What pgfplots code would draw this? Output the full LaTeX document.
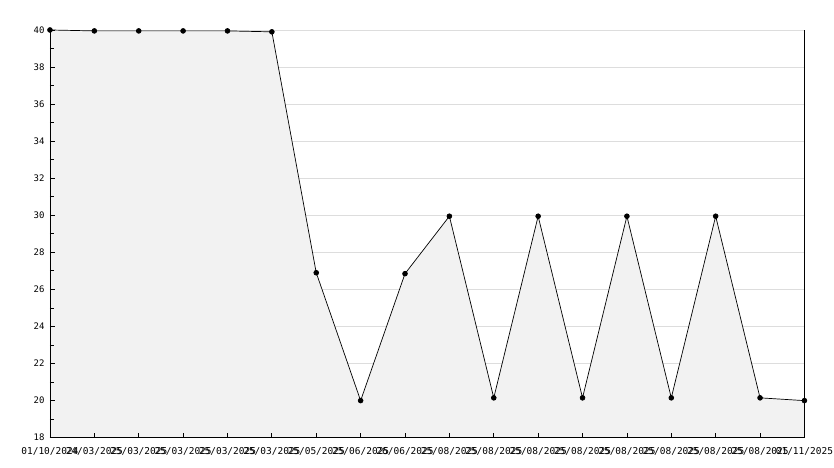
\documentclass[border=0pt]{standalone}
\usepackage{pgfplots}
\pgfplotsset{compat=1.18}
\usepackage{fontspec}
\setmainfont{DejaVu Sans Mono}
\definecolor{fillc}{RGB}{242,242,242}
\definecolor{gridc}{RGB}{221,221,221}
\begin{document}
\begin{tikzpicture}
\begin{axis}[
  scale only axis,
  width=755pt, height=408pt,
  xmin=0, xmax=17, ymin=18, ymax=40,
  axis on top,
  axis lines=left,
  axis line style={-},
  xtick={0,...,17},
  xticklabels={01/10/2024,24/03/2025,25/03/2025,25/03/2025,25/03/2025,25/03/2025,25/05/2025,25/06/2025,26/06/2025,25/08/2025,25/08/2025,25/08/2025,25/08/2025,25/08/2025,25/08/2025,25/08/2025,25/08/2025,01/11/2025},
  ytick={18,20,...,40},
  minor y tick num=1,
  tick align=inside,
  major tick length=5pt, minor tick length=4pt,
  tick style={black, line width=0.8pt},
  yticklabel style={font=\fontsize{9}{10}\selectfont, /pgf/number format/assume math mode=true, xshift=-2pt},
  xticklabel style={font=\fontsize{9.5}{10}\selectfont, inner sep=1pt, yshift=-9pt},
  clip=false,
]
\pgfplotsinvokeforeach{20,22,...,40}{
  \draw[gridc, line width=0.8pt] (axis cs:0,#1) -- (axis cs:17,#1);
}
\addplot[fill=fillc, draw=none] coordinates {
(0,40) (1,39.95) (2,39.95) (3,39.95) (4,39.95) (5,39.9) (6,26.9) (7,20.0) (8,26.85) (9,29.95) (10,20.15) (11,29.95) (12,20.15) (13,29.95) (14,20.15) (15,29.95) (16,20.15) (17,20.0)
} \closedcycle;
\addplot[black, line width=0.7pt, mark=*, mark size=2.4pt, mark options={solid, fill=black}] coordinates {
(0,40) (1,39.95) (2,39.95) (3,39.95) (4,39.95) (5,39.9) (6,26.9) (7,20.0) (8,26.85) (9,29.95) (10,20.15) (11,29.95) (12,20.15) (13,29.95) (14,20.15) (15,29.95) (16,20.15) (17,20.0)
};
\draw[black, line width=0.9pt] (rel axis cs:0,1) -- (rel axis cs:0,0) -- (rel axis cs:1,0) -- (rel axis cs:1,1);
\end{axis}
\useasboundingbox ([shift={(-50pt,-30pt)}]current axis.south west) rectangle ([shift={(29pt,30pt)}]current axis.north east);
\end{tikzpicture}
\end{document}
